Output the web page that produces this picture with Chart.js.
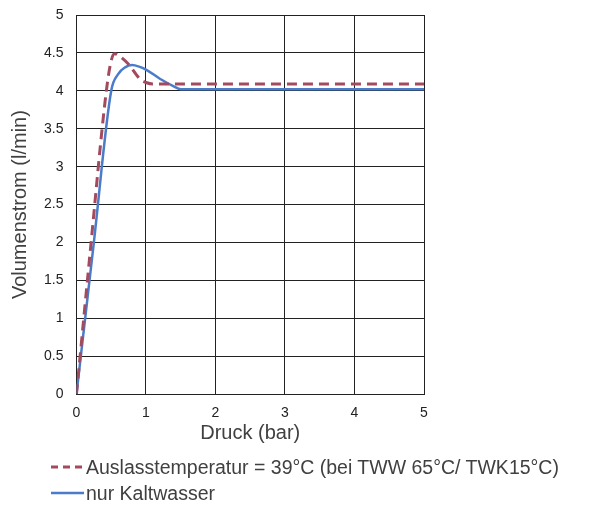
<!DOCTYPE html>
<html>
<head>
<meta charset="utf-8">
<script src="https://cdn.jsdelivr.net/npm/chart.js@4.4.1/dist/chart.umd.min.js"></script>
<style>
  html, body { margin: 0; padding: 0; background: #fff; }
  #wrap { position: relative; width: 611px; height: 507px; }
  #legend { position: absolute; left: 51px; top: 454px; font-family: "Liberation Sans", Arial, sans-serif; font-size: 19.5px; color: #404040; }
  .item { display: flex; align-items: center; height: 26px; white-space: nowrap; }
  .item svg { margin-right: 2px; }
</style>
</head>
<body>
<div id="wrap">
  <canvas id="chart" width="611" height="507"></canvas>
  <div id="legend"></div>
</div>
<script>
// Druck (bar) / Volumenstrom (l/min)
const redX = [0, 0.2, 0.43, 0.5, 0.55, 0.6, 0.75, 0.92, 1.0, 1.1, 5];
const redY = [0, 1.9, 4.0, 4.4, 4.49, 4.47, 4.35, 4.15, 4.11, 4.09, 4.09];
const blueX = [0, 0.25, 0.5, 0.6, 0.7, 0.8, 0.9, 1.0, 1.2, 1.4, 1.5, 5];
const blueY = [0, 2.0, 4.0, 4.22, 4.31, 4.34, 4.32, 4.28, 4.16, 4.06, 4.02, 4.02];
const labels = ['Auslasstemperatur = 39°C (bei TWW 65°C/ TWK15°C)', 'nur Kaltwasser'];
const xTicks = [0, 1, 2, 3, 4, 5];
const yTicks = [0, 0.5, 1, 1.5, 2, 2.5, 3, 3.5, 4, 4.5, 5];

const redColor = '#A34A5E';
const blueColor = '#4A7CC9';
const font = '"Liberation Sans", Arial, sans-serif';

const toPoints = (xs, ys) => xs.map((x, i) => ({ x: x, y: ys[i] }));

new Chart(document.getElementById('chart'), {
    type: 'line',
    data: {
        datasets: [
            {
                label: labels[0],
                data: toPoints(redX, redY),
                borderColor: redColor,
                borderWidth: 3,
                borderDash: [10, 6],
                pointRadius: 0,
                cubicInterpolationMode: 'monotone',
                fill: false
            },
            {
                label: labels[1],
                data: toPoints(blueX, blueY),
                borderColor: blueColor,
                borderWidth: 2.5,
                pointRadius: 0,
                cubicInterpolationMode: 'monotone',
                fill: false
            }
        ]
    },
    options: {
        responsive: false,
        animation: false,
        layout: { padding: { left: 4, right: 187, top: 0, bottom: 62 } },
        plugins: { legend: { display: false }, tooltip: { enabled: false } },
        scales: {
            x: {
                type: 'linear',
                min: 0, max: 5,
                afterBuildTicks: (axis) => { axis.ticks = xTicks.map(v => ({ value: v })); },
                grid: { color: '#222', lineWidth: 1, drawTicks: false },
                border: { color: '#222' },
                ticks: { color: '#222', font: { family: font, size: 14 }, padding: 11, callback: (v) => String(v) },
                title: { display: true, text: 'Druck (bar)', color: '#404040', font: { family: font, size: 20 }, padding: { top: -12, bottom: 0 } }
            },
            y: {
                min: 0, max: 5,
                afterBuildTicks: (axis) => { axis.ticks = yTicks.map(v => ({ value: v })); },
                // keep the plot top close to the canvas edge
                afterFit: (axis) => { axis.paddingTop = 15; axis.paddingBottom = 8; },
                grid: { color: '#222', lineWidth: 1, drawTicks: false },
                border: { color: '#222' },
                ticks: { color: '#222', font: { family: font, size: 14 }, padding: 13, callback: (v) => String(v) },
                title: { display: true, text: 'Volumenstrom (l/min)', color: '#404040', font: { family: font, size: 20 }, padding: { top: 4, bottom: -1 } }
            }
        }
    },
    plugins: [{
        id: 'topBorder',
        afterDraw(chart) {
            const a = chart.chartArea, ctx = chart.ctx;
            ctx.save();
            ctx.strokeStyle = '#222';
            ctx.lineWidth = 1;
            ctx.beginPath();
            ctx.moveTo(a.left, a.top + 0.5);
            ctx.lineTo(a.right, a.top + 0.5);
            ctx.stroke();
            ctx.restore();
        }
    }]
});

// legend below the chart
const legend = document.getElementById('legend');
const svgNS = 'http://www.w3.org/2000/svg';
[{ c: redColor, dash: '7,5', w: 3 }, { c: blueColor, dash: '', w: 2.5 }].forEach((s, i) => {
    const row = document.createElement('div');
    row.className = 'item';
    const svg = document.createElementNS(svgNS, 'svg');
    svg.setAttribute('width', '33');
    svg.setAttribute('height', '6');
    const ln = document.createElementNS(svgNS, 'line');
    ln.setAttribute('x1', '0'); ln.setAttribute('x2', '33');
    ln.setAttribute('y1', '3'); ln.setAttribute('y2', '3');
    ln.setAttribute('stroke', s.c);
    ln.setAttribute('stroke-width', s.w);
    if (s.dash) ln.setAttribute('stroke-dasharray', s.dash);
    svg.appendChild(ln);
    const tx = document.createElement('span');
    tx.textContent = labels[i];
    row.appendChild(svg);
    row.appendChild(tx);
    legend.appendChild(row);
});
</script>
</body>
</html>
